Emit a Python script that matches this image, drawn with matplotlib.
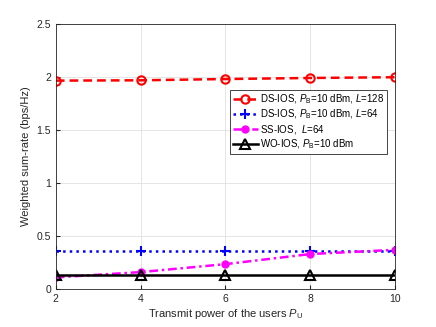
import numpy as np
import matplotlib
matplotlib.use("Agg")
import matplotlib.pyplot as plt

plt.rcParams['font.family'] = ['Liberation Sans', 'DejaVu Sans']
plt.rcParams['mathtext.fontset'] = 'custom'
plt.rcParams['mathtext.rm'] = 'Liberation Sans'
plt.rcParams['mathtext.it'] = 'Liberation Sans:italic'

pu = [2, 4, 6, 8, 10]
ds_128 = [1.965, 1.968, 1.98, 1.99, 1.997]
ds_64 = [0.36, 0.36, 0.36, 0.36, 0.36]
ss_64 = [0.11, 0.16, 0.235, 0.33, 0.37]
wo = [0.135, 0.135, 0.135, 0.135, 0.135]

fig = plt.figure(figsize=(4.36, 3.27), dpi=100)
ax = fig.add_axes([0.128, 0.116, 0.778, 0.811])

ax.plot(pu, ds_128, color='red', ls=(0, (3.5, 2)), marker='o', mfc='none', mew=1.5, ms=6, lw=1.8,
        label=r'DS-IOS, $P_{\rm B}$=10 dBm, $L$=128')
ax.plot(pu, ds_64, color='blue', ls=':', marker='+', mew=1.5, ms=7, lw=1.8,
        label=r'DS-IOS, $P_{\rm B}$=10 dBm, $L$=64')
ax.plot(pu, ss_64, color='magenta', ls=(0, (3.5, 1.5, 1, 1.5)), marker='o', ms=5, lw=1.8,
        label=r'SS-IOS,  $L$=64')
ax.plot(pu, wo, 'k-', marker='^', mfc='none', mew=1.5, ms=7, lw=1.8,
        label=r'WO-IOS, $P_{\rm B}$=10 dBm')

ax.set_xlim(2, 10)
ax.set_ylim(0, 2.5)
ax.set_xticks([2, 4, 6, 8, 10])
ax.set_yticks([0, 0.5, 1, 1.5, 2, 2.5])
ax.set_yticklabels(['0', '0.5', '1', '1.5', '2', '2.5'])
ax.grid(True, color='#e0e0e0', lw=0.6)
ax.tick_params(labelsize=7.5, direction='in', length=3, color='#262626', labelcolor='#262626')
for s in ax.spines.values():
    s.set_color('#262626')
    s.set_linewidth(0.6)

ax.set_xlabel(r'Transmit power of the users $P_{\rm U}$', fontsize=8, color='#262626', labelpad=2)
ax.set_ylabel('Weighted sum-rate (bps/Hz)', fontsize=8, color='#262626', labelpad=4)

leg = ax.legend(loc='upper right', bbox_to_anchor=(0.992, 0.77), fontsize=7,
                fancybox=False, edgecolor='#262626', framealpha=1,
                handlelength=2.5, borderpad=0.3, labelspacing=0.15, handletextpad=0.3)
leg.get_frame().set_linewidth(0.6)

fig.savefig('out.png', dpi=100)
